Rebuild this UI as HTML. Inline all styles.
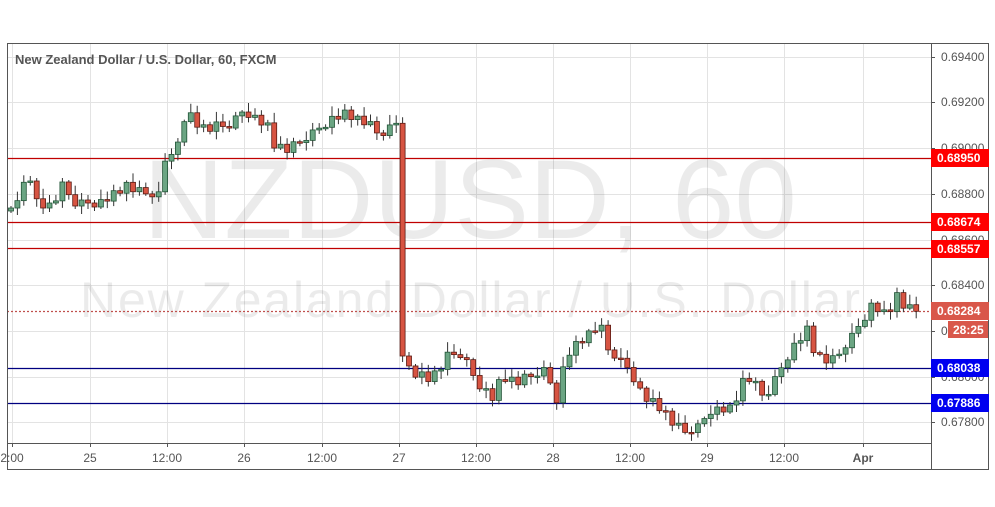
<!DOCTYPE html>
<html><head><meta charset="utf-8"><style>
html,body{margin:0;padding:0;background:#fff;}
svg{display:block;font-family:"Liberation Sans",sans-serif;}
</style></head><body>
<svg id="c" width="995" height="507" xmlns="http://www.w3.org/2000/svg">
<rect x="0" y="0" width="995" height="507" fill="#fff"/>
<g id="grid" stroke="#e3e3e3" stroke-width="1"></g>
<text x="470" y="238" font-size="112" fill="#000" fill-opacity="0.08" text-anchor="middle">NZDUSD, 60</text>
<text x="470" y="317" font-size="50" fill="#000" fill-opacity="0.08" text-anchor="middle" textLength="780">New Zealand Dollar / U.S. Dollar</text>
<g stroke-width="1.2">
<line x1="7" y1="158.5" x2="931" y2="158.5" stroke="#c00000"/>
<line x1="7" y1="222.5" x2="931" y2="222.5" stroke="#c00000"/>
<line x1="7" y1="248.5" x2="931" y2="248.5" stroke="#c00000"/>
<line x1="7" y1="368.5" x2="931" y2="368.5" stroke="#000080"/>
<line x1="7" y1="403.5" x2="931" y2="403.5" stroke="#000080"/>
<line x1="7" y1="311.5" x2="931" y2="311.5" stroke="#c0504d" stroke-dasharray="2,2"/>
</g>
<g id="candles"></g>
<text x="15" y="64" font-size="13" font-weight="bold" fill="#555">New Zealand Dollar / U.S. Dollar, 60, FXCM</text>
<rect x="7.5" y="43.5" width="981" height="426" fill="none" stroke="#555" stroke-width="1"/>
<line x1="931.5" y1="43" x2="931.5" y2="470" stroke="#555"/>
<line x1="7" y1="443.5" x2="931" y2="443.5" stroke="#555"/>
<g id="ylab" font-size="12" fill="#555"></g>
<g id="xlab" font-size="12" fill="#555" text-anchor="middle"></g>
<g font-size="12" font-weight="bold" fill="#fff">
<rect x="931" y="149" width="58" height="18" fill="#f00"/><text x="937" y="162">0.68950</text>
<rect x="931" y="213" width="58" height="18" fill="#f00"/><text x="937" y="226">0.68674</text>
<rect x="931" y="240" width="58" height="18" fill="#f00"/><text x="937" y="253">0.68557</text>
<rect x="931" y="302" width="58" height="18" fill="#d9574a"/><text x="937" y="315">0.68284</text>
<rect x="948" y="321" width="40" height="17" fill="#d9574a"/><text x="953" y="334">28:25</text>
<rect x="931" y="359" width="58" height="18" fill="#0000f0"/><text x="937" y="372">0.68038</text>
<rect x="931" y="394" width="58" height="18" fill="#0000f0"/><text x="937" y="407">0.67886</text>
</g>
</svg>
<script>
(function(){
var NS="http://www.w3.org/2000/svg";
function el(p,t,a,txt){var e=document.createElementNS(NS,t);for(var k in a)e.setAttribute(k,a[k]);if(txt)e.textContent=txt;document.getElementById(p).appendChild(e);return e;}
var ys=[[57,"0.69400"],[102,"0.69200"],[148,"0.69000"],[194,"0.68800"],[240,"0.68600"],[285,"0.68400"],[331,"0.68200"],[377,"0.68000"],[422,"0.67800"]];
ys.forEach(function(v){el("grid","line",{x1:7,x2:931,y1:v[0]+.5,y2:v[0]+.5});el("ylab","line",{x1:931,x2:935,y1:v[0]+.5,y2:v[0]+.5,stroke:"#555"});el("ylab","text",{x:941,y:v[0]+4},v[1]);});
var xs=[[12,"2:00"],[90,"25"],[167,"12:00"],[244,"26"],[322,"12:00"],[399,"27"],[476,"12:00"],[553,"28"],[630,"12:00"],[707,"29"],[784,"12:00"],[863,"Apr"]];
xs.forEach(function(v){el("grid","line",{x1:v[0]+.5,x2:v[0]+.5,y1:43,y2:443});el("xlab","line",{x1:v[0]+.5,x2:v[0]+.5,y1:443,y2:447,stroke:"#555"});el("xlab","text",{x:v[0],y:462,"font-weight":v[1]=="Apr"?"bold":"normal"},v[1]);});
var kp=[[11,208],[24,185],[30,178],[37,205],[50,205],[63,185],[75,203],[100,203],[115,195],[128,183],[140,192],[160,195],[166,155],[178,145],[186,113],[200,127],[230,125],[244,110],[268,128],[274,145],[290,148],[310,135],[330,120],[345,115],[365,120],[380,135],[398,122],[404,356],[411,374],[430,379],[450,353],[463,355],[476,381],[494,400],[501,378],[520,380],[545,370],[558,402],[565,358],[584,338],[600,321],[605,346],[630,370],[643,397],[663,410],[683,432],[697,428],[711,410],[732,410],[746,372],[765,398],[791,350],[808,330],[815,355],[834,360],[853,335],[872,305],[888,318],[895,292],[907,308],[919,311]];
function interp(x){for(var i=0;i<kp.length-1;i++){if(x<=kp[i+1][0]){var a=kp[i],b=kp[i+1];return a[1]+(b[1]-a[1])*(x-a[0])/(b[0]-a[0]);}}return kp[kp.length-1][1];}
var noise=[0,4,-3,2,-5,3,-2,5,-4,1,3,-3];
var prev=interp(11)+3;
for(var i=0;;i++){var x=11+i*6.42;if(x>921)break;
var c=interp(x)+(x>400&&x<405?0:noise[i%12]);
if(i==61){c=356;}
var o=prev;var up=c<o;
var ty=Math.min(o,c),by=Math.max(o,c);if(by-ty<1.5)by=ty+1.5;
var hi=ty-(2+((i*7)%9)),lo=by+(2+((i*5)%7));
el("candles","line",{x1:x.toFixed(1),x2:x.toFixed(1),y1:hi,y2:lo,stroke:"#333","stroke-width":1});
el("candles","rect",{x:(x-2.5).toFixed(1),y:ty,width:5,height:by-ty,fill:up?"#6ba583":"#d75442",stroke:up?"#225437":"#5b1a13","stroke-width":0.8});
prev=c;}
})();
</script>
</body></html>
